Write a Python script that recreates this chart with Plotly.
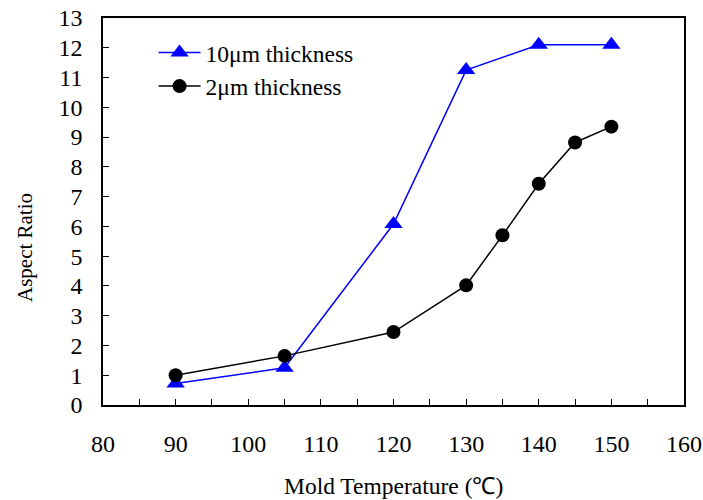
import plotly.graph_objects as go

temp_10um = [90, 105, 120, 130, 140, 150]
ar_10um = [0.72, 1.25, 6.08, 11.25, 12.1, 12.1]
temp_2um = [90, 105, 120, 130, 135, 140, 145, 150]
ar_2um = [1.0, 1.65, 2.45, 4.02, 5.7, 7.43, 8.82, 9.35]

x_ticks = [80, 90, 100, 110, 120, 130, 140, 150, 160]
y_ticks = list(range(0, 14))

FONT = "Liberation Serif"
tick_font = dict(family=FONT, size=24, color="black")
legend_font = dict(family=FONT, size=23.5, color="black")

fig = go.Figure()
fig.add_trace(go.Scatter(
    x=temp_10um, y=ar_10um, mode="lines+markers", name="10\u03bcm thickness",
    line=dict(color="#0000ff", width=1.5),
    marker=dict(symbol="triangle-up", size=16, color="#0000ff"),
    legendgroup="a"))
fig.add_trace(go.Scatter(
    x=temp_2um, y=ar_2um, mode="lines+markers", name="2\u03bcm thickness",
    line=dict(color="black", width=1.5),
    marker=dict(symbol="circle", size=14, color="black"),
    legendgroup="b"))

fig.update_layout(
    template="none",
    width=703, height=500,
    margin=dict(l=103, r=19, t=18, b=95, autoexpand=False),
    plot_bgcolor="white", paper_bgcolor="white",
    font=tick_font,
    showlegend=True,
    legend=dict(x=0.087, y=0.967, xanchor="left", yanchor="top",
                bgcolor="rgba(0,0,0,0)", font=legend_font, itemwidth=42,
                tracegroupgap=10, traceorder="normal"),
    xaxis=dict(range=[80, 160], tickvals=x_ticks, ticks="inside", ticklen=6,
               tickcolor="black", showline=True, linecolor="black", linewidth=1.5,
               mirror=True, showgrid=False, zeroline=False, automargin=False,
               tickfont=tick_font, ticklabelstandoff=16,
               minor=dict(dtick=5, tick0=80, ticks="inside", ticklen=6, tickcolor="black")),
    yaxis=dict(range=[0, 13], tickvals=y_ticks, ticks="inside", ticklen=6,
               tickcolor="black", showline=True, linecolor="black", linewidth=1.5,
               mirror=True, showgrid=False, zeroline=False, automargin=False,
               tickfont=tick_font, ticklabelstandoff=14),
)

fig.add_annotation(text="Mold Temperature (\u2103)", xref="paper", yref="paper",
                   x=0.5, y=-0.21, xanchor="center", yanchor="middle",
                   showarrow=False, font=dict(family=FONT, size=23.5, color="black"))
fig.add_annotation(text="Aspect Ratio", xref="paper", yref="paper",
                   x=-0.134, y=0.406, xanchor="center", yanchor="middle",
                   textangle=-90, showarrow=False, font=dict(family=FONT, size=21, color="black"))

fig.write_html("out.html")
